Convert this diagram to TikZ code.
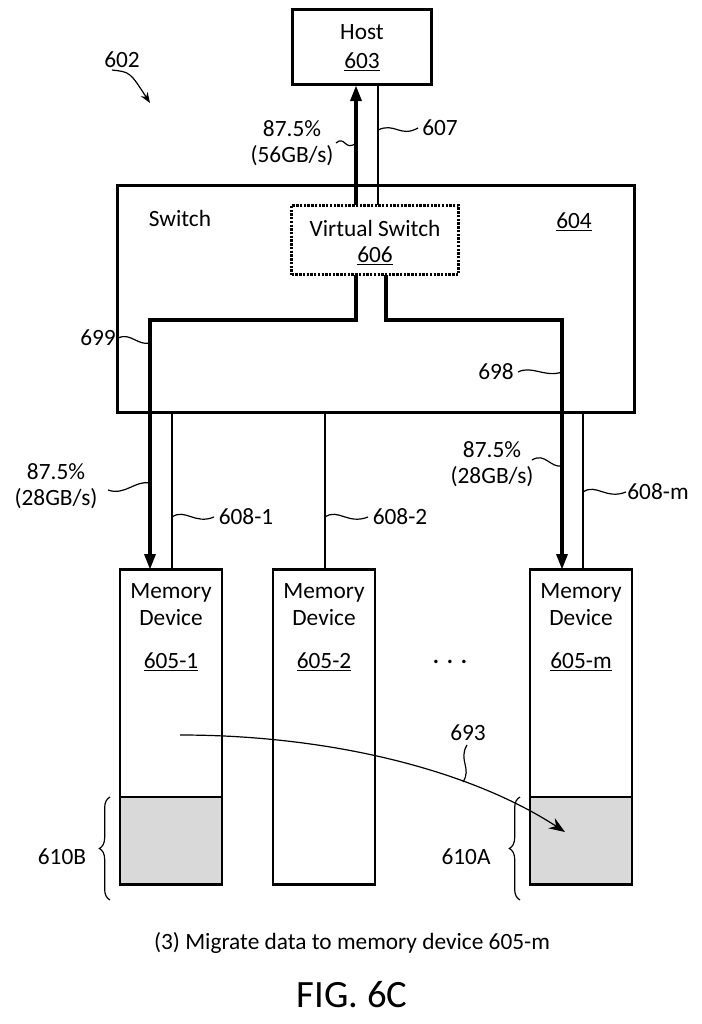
\documentclass[tikz,border=0pt]{standalone}
\usepackage{fontspec}
\setmainfont{Carlito}
\usetikzlibrary{arrows.meta,decorations.pathreplacing}
\tikzset{
  boxed/.style={draw,line width=1.8pt,inner sep=0pt},
  devbox/.style={boxed,minimum width=76.5pt,minimum height=236pt},
  lbl/.style={font=\fontsize{17.5}{19}\selectfont,inner sep=1pt},
  wide/.style={line width=3pt},
  slim/.style={line width=1.2pt},
  leader/.style={line width=0.9pt},
  band/.style={fill=gray!30,draw=none}
}
\newcommand{\ul}[1]{\underline{#1}}
\begin{document}
\begin{tikzpicture}[x=0.75pt,y=-0.75pt,>={Triangle[length=12pt,width=8pt]}]
  \useasboundingbox (0,0) rectangle (702,1024);

  % host and switch
  \node[boxed,minimum width=104pt,minimum height=56pt] (host) at (362,47) {};
  \node[lbl] at (362,32) {Host};
  \node[lbl] at (362,62) {\ul{603}};
  \node[boxed,minimum width=388pt,minimum height=170pt] (switch) at (376,299) {};
  \node[lbl] at (180,218) {Switch};
  \node[lbl] at (574,222) {\ul{604}};
  \node[draw,densely dotted,line width=1.8pt,minimum width=125pt,minimum height=52pt] (vsw) at (375,240) {};
  \node[lbl] at (375,228) {Virtual Switch};
  \node[lbl] at (375,256) {\ul{606}};

  % memory devices
  \fill[band] (121,797) rectangle (221,885);
  \fill[band] (531,797) rectangle (631,885);
  \node[devbox] (dev1) at (171,727) {};
  \node[devbox] (dev2) at (324,727) {};
  \node[devbox] (devm) at (581,727) {};
  \draw[line width=1.2pt] (121,797) -- (221,797) (531,797) -- (631,797);
  \foreach \n/\x/\t in {dev1/171/605-1,dev2/324/605-2,devm/581/605-m}{
    \node[lbl] at (\x,593) {Memory};
    \node[lbl] at (\x,618) {Device};
    \node[lbl] at (\x,662) {\ul{\t}};
  }
  \node[lbl] (dots) at (450,662) {\textbf{.\,\,.\,\,.}};

  % links
  \draw[wide,->] (356,205) -- (356,85);
  \draw[slim] (378,205) -- (378,85);
  \draw[wide,->] (356,275) -- (356,320) -- (150,320) -- (150,570);
  \draw[wide,->] (386,275) -- (386,320) -- (562,320) -- (562,570);
  \draw[slim] (172,413) -- (172,570);
  \draw[slim] (325,413) -- (325,570);
  \draw[slim] (583,413) -- (583,570);

  % labels with leaders
  \node[lbl] (l602) at (122,60) {602};
  \draw[leader,->,>={Stealth[length=8pt]}] (112,70) .. controls (130,72) .. (150,103);
  \node[lbl,align=center] (l56) at (292,143) {87.5\%\\(56GB/s)};
  \draw[leader] (336,143) .. controls (345,135) and (345,152) .. (356,143);
  \node[lbl] (l607) at (440,128) {607};
  \draw[leader] (378,130) .. controls (395,122) and (400,138) .. (418,128);
  \node[lbl] (l699) at (98,338) {699};
  \draw[leader] (118,338) .. controls (130,332) and (138,346) .. (150,343);
  \node[lbl] (l698) at (496,372) {698};
  \draw[leader] (518,372) .. controls (532,365) and (545,378) .. (562,372);
  \node[lbl,align=center] (l28a) at (56,486) {87.5\%\\(28GB/s)};
  \draw[leader] (108,490) .. controls (125,496) and (135,480) .. (150,483);
  \node[lbl,align=center] (l28b) at (492,464) {87.5\%\\(28GB/s)};
  \draw[leader] (532,460) .. controls (545,452) and (550,468) .. (562,466);
  \node[lbl] (l6081) at (246,517) {608-1};
  \draw[leader] (172,517) .. controls (185,508) and (195,525) .. (214,517);
  \node[lbl] (l6082) at (400,517) {608-2};
  \draw[leader] (325,517) .. controls (338,508) and (348,525) .. (368,517);
  \node[lbl] (l608m) at (658,492) {608-m};
  \draw[leader] (583,492) .. controls (596,483) and (606,500) .. (626,492);

  % migration
  \draw[leader,->,>={Stealth[length=12pt,width=9pt]}] (180,735) .. controls (330,735) and (470,770) .. (565,832);
  \node[lbl] (l693) at (468,733) {693};
  \draw[leader] (467,745) .. controls (458,760) and (472,768) .. (463,782);
  \draw[leader,decorate,decoration={brace,amplitude=8pt}] (110,900) -- (110,797);
  \node[lbl] (l610b) at (62,857) {610B};
  \draw[leader,decorate,decoration={brace,amplitude=8pt}] (520,900) -- (520,797);
  \node[lbl] (l610a) at (466,857) {610A};

  % caption
  \node[lbl] (cap) at (352,943) {(3) Migrate data to memory device 605-m};
  \node[font=\fontsize{29}{32}\selectfont] (fig) at (352,995) {FIG. 6C};
\end{tikzpicture}
\end{document}
